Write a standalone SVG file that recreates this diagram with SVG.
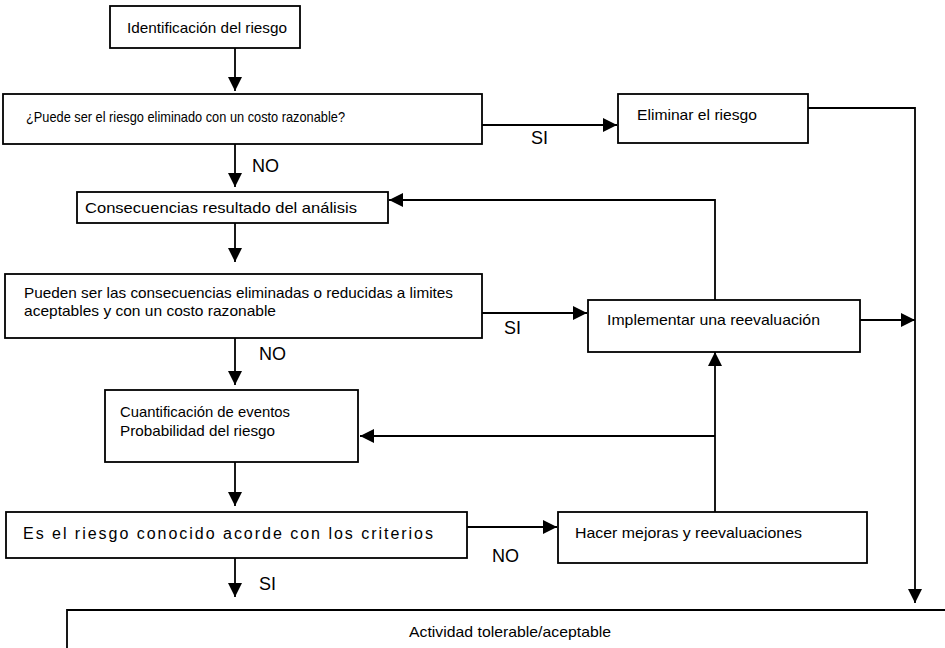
<svg xmlns="http://www.w3.org/2000/svg" width="945" height="648" viewBox="0 0 945 648">
<style>
.box{fill:#fff;stroke:#000;stroke-width:1.8}
.t{font-family:"Liberation Sans",Arial,sans-serif;font-size:15px;fill:#000}
.sp{font-size:16px}
.lbl{font-family:"Liberation Sans",Arial,sans-serif;font-size:18px;fill:#000}
.ln{fill:none;stroke:#000;stroke-width:1.8}
</style>
<defs>
<marker id="ah" viewBox="0 0 14 14" refX="14" refY="7" markerWidth="14" markerHeight="14" markerUnits="userSpaceOnUse" orient="auto">
<path d="M0,0 L14,7 L0,14 Z" fill="#000"/>
</marker>
</defs>
<g id="connectors">
<path class="ln" d="M235,48 V91" marker-end="url(#ah)"/>
<path class="ln" d="M482,125 H617" marker-end="url(#ah)"/>
<path class="ln" d="M808,108 H915 V603" marker-end="url(#ah)"/>
<path class="ln" d="M235,144 V187" marker-end="url(#ah)"/>
<path class="ln" d="M715,300 V200 H389" marker-end="url(#ah)"/>
<path class="ln" d="M235,223 V262" marker-end="url(#ah)"/>
<path class="ln" d="M482,313 H587" marker-end="url(#ah)"/>
<path class="ln" d="M860,320 H915" marker-end="url(#ah)"/>
<path class="ln" d="M235,338 V385" marker-end="url(#ah)"/>
<path class="ln" d="M715,512 V352" marker-end="url(#ah)"/>
<path class="ln" d="M715,436 H360" marker-end="url(#ah)"/>
<path class="ln" d="M235,462 V506" marker-end="url(#ah)"/>
<path class="ln" d="M467,527 H557" marker-end="url(#ah)"/>
<path class="ln" d="M235,558 V597" marker-end="url(#ah)"/>
<text class="lbl" x="531" y="144">SI</text>
<text class="lbl" x="252" y="172">NO</text>
<text class="lbl" x="504" y="334">SI</text>
<text class="lbl" x="259" y="360">NO</text>
<text class="lbl" x="492" y="562">NO</text>
<text class="lbl" x="259" y="590">SI</text>
</g>
<g id="n1"><rect class="box" x="110" y="6" width="190" height="42"/><text class="t" x="127" y="33" textLength="160" lengthAdjust="spacingAndGlyphs">Identificación del riesgo</text></g>
<g id="n2"><rect class="box" x="3" y="94" width="479" height="50"/><text class="t" x="26" y="122" textLength="319" lengthAdjust="spacingAndGlyphs">¿Puede ser el riesgo eliminado con un costo razonable?</text></g>
<g id="n3"><rect class="box" x="618" y="94" width="190" height="49"/><text class="t" x="637" y="120" textLength="120" lengthAdjust="spacingAndGlyphs">Eliminar el riesgo</text></g>
<g id="n4"><rect class="box" x="77" y="192" width="311" height="31"/><text class="t" x="85" y="213" textLength="272" lengthAdjust="spacingAndGlyphs">Consecuencias resultado del análisis</text></g>
<g id="n5"><rect class="box" x="5" y="274" width="477" height="64"/><text class="t" x="24" y="298" textLength="429" lengthAdjust="spacingAndGlyphs">Pueden ser las consecuencias eliminadas o reducidas a limites</text><text class="t" x="24" y="316" textLength="252" lengthAdjust="spacingAndGlyphs">aceptables y con un costo razonable</text></g>
<g id="n6"><rect class="box" x="588" y="300" width="272" height="52"/><text class="t" x="607" y="325" textLength="213" lengthAdjust="spacingAndGlyphs">Implementar una reevaluación</text></g>
<g id="n7"><rect class="box" x="105" y="390" width="253" height="72"/><text class="t" x="120" y="417" textLength="170" lengthAdjust="spacingAndGlyphs">Cuantificación de eventos</text><text class="t" x="120" y="436" textLength="155" lengthAdjust="spacingAndGlyphs">Probabilidad del riesgo</text></g>
<g id="n8"><rect class="box" x="6" y="512" width="461" height="46"/><text class="t sp" x="23" y="539" textLength="410" lengthAdjust="spacing">Es el riesgo conocido acorde con los criterios</text></g>
<g id="n9"><rect class="box" x="558" y="512" width="309" height="51"/><text class="t" x="575" y="538" textLength="227" lengthAdjust="spacingAndGlyphs">Hacer mejoras y reevaluaciones</text></g>
<g id="n10"><path class="ln" d="M67,660 V610 H950"/><text class="t" x="409" y="637" textLength="202" lengthAdjust="spacingAndGlyphs">Actividad tolerable/aceptable</text></g>
</svg>
